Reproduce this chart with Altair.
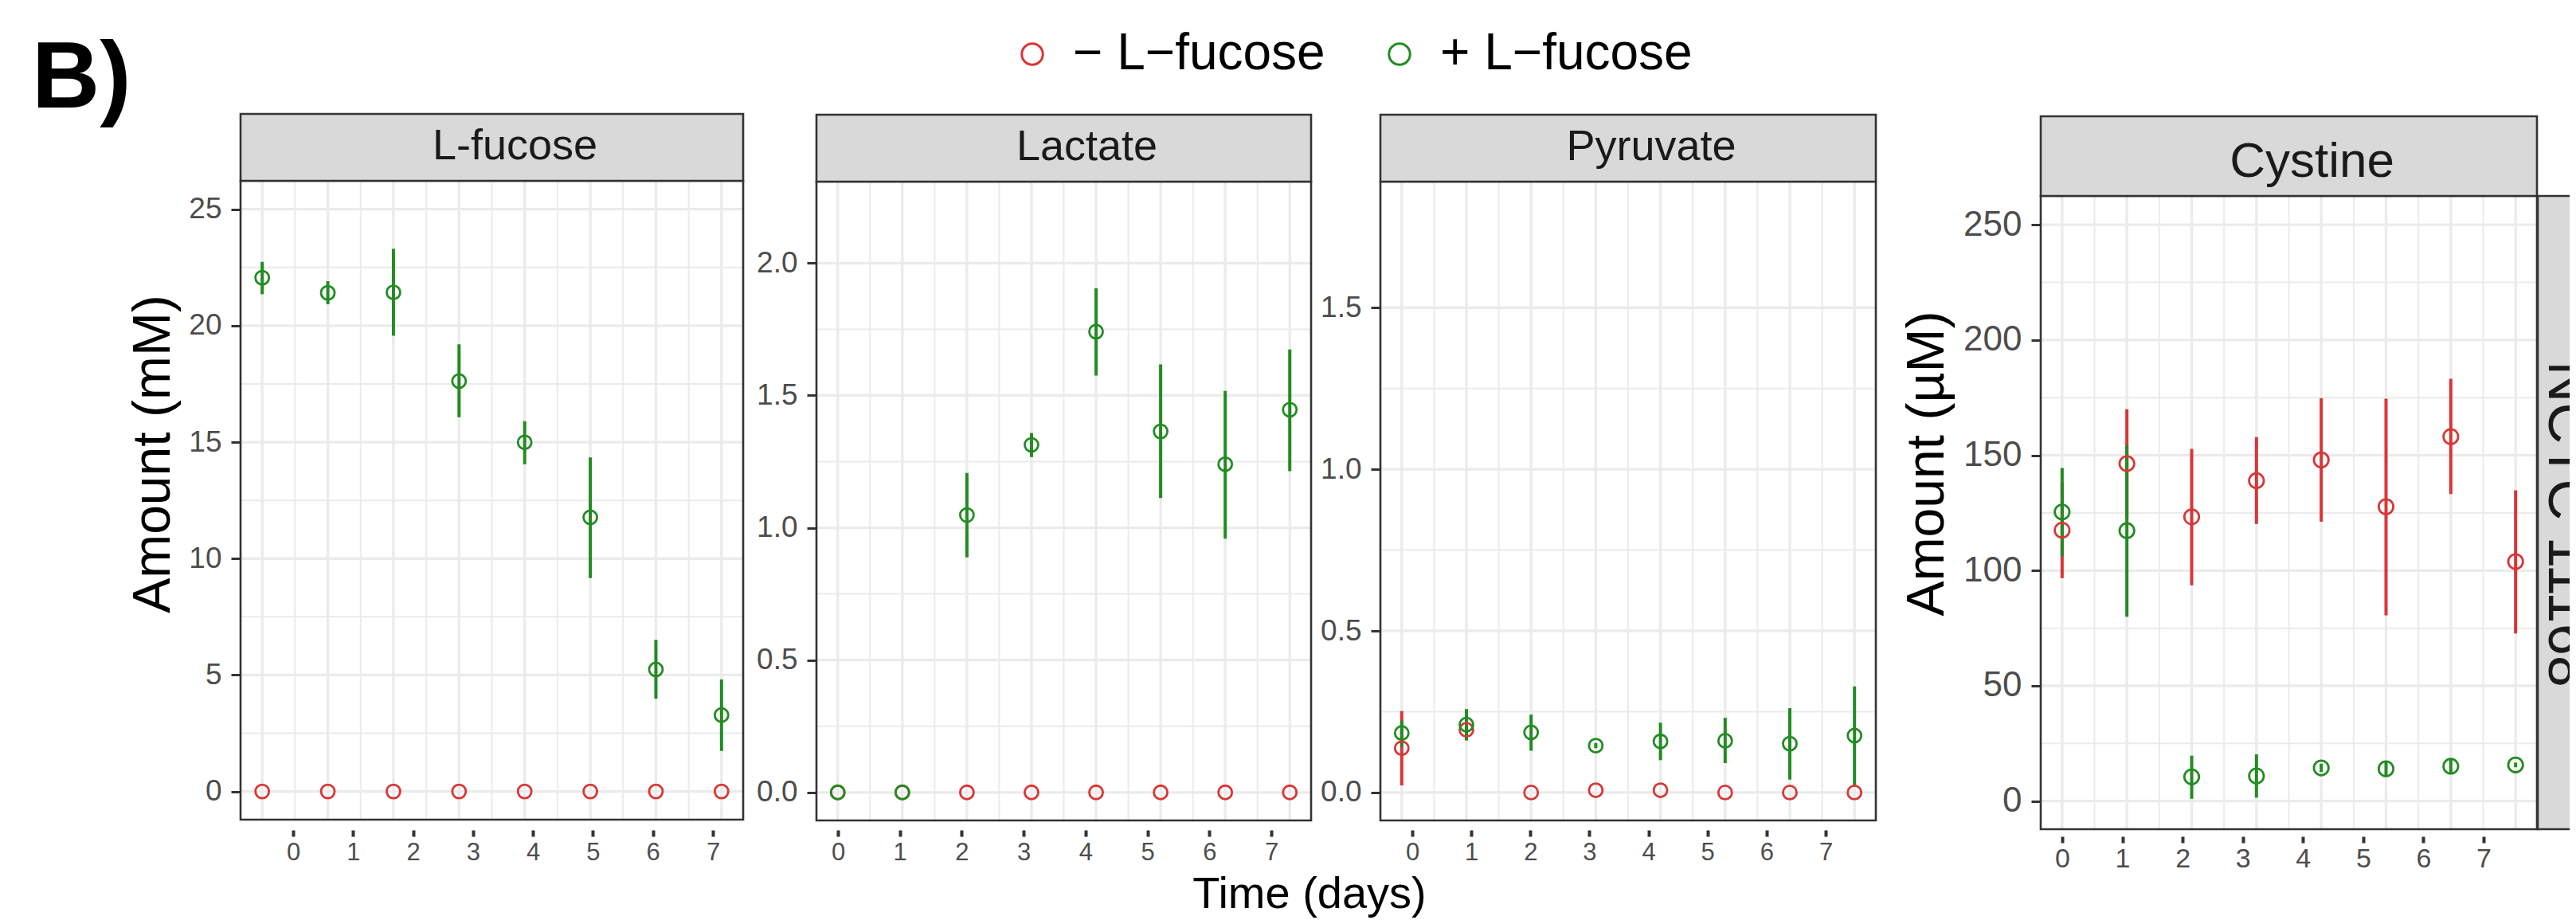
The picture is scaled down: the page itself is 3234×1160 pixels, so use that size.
import altair as alt
import pandas as pd

# ---------------- data ----------------
days = [0, 1, 2, 3, 4, 5, 6, 7]
tick_labels = [0, 1, 2, 3, 4, 5, 6, 7]
conditions = ["− L−fucose", "+ L−fucose"]
condition_colors = ["#d93636", "#238b23"]

# L-fucose (mM)
lfucose_minus_mean = [0, 0, 0, 0, 0, 0, 0, 0]
lfucose_minus_low = [0, 0, 0, 0, 0, 0, 0, 0]
lfucose_minus_high = [0, 0, 0, 0, 0, 0, 0, 0]
lfucose_plus_mean = [22.06, 21.41, 21.43, 17.62, 14.99, 11.77, 5.24, 3.28]
lfucose_plus_low = [21.35, 20.92, 19.57, 16.07, 14.05, 9.16, 3.98, 1.74]
lfucose_plus_high = [22.74, 21.91, 23.30, 19.20, 15.90, 14.34, 6.51, 4.81]

# Lactate (mM)
lactate_minus_mean = [0, 0, 0, 0, 0, 0, 0, 0]
lactate_minus_low = [0, 0, 0, 0, 0, 0, 0, 0]
lactate_minus_high = [0, 0, 0, 0, 0, 0, 0, 0]
lactate_plus_mean = [0.0, 0.0, 1.048, 1.313, 1.741, 1.364, 1.240, 1.446]
lactate_plus_low = [0.0, 0.0, 0.888, 1.267, 1.575, 1.112, 0.959, 1.214]
lactate_plus_high = [0.0, 0.0, 1.207, 1.358, 1.905, 1.617, 1.517, 1.674]

# Pyruvate (mM)
pyruvate_minus_mean = [0.137, 0.194, 0.0, 0.007, 0.007, 0.0, 0.0, 0.0]
pyruvate_minus_low = [0.022, 0.180, 0.0, 0.007, 0.007, 0.0, 0.0, 0.0]
pyruvate_minus_high = [0.252, 0.208, 0.0, 0.007, 0.007, 0.0, 0.0, 0.0]
pyruvate_plus_mean = [0.184, 0.210, 0.186, 0.145, 0.158, 0.160, 0.151, 0.176]
pyruvate_plus_low = [0.141, 0.161, 0.129, 0.137, 0.100, 0.091, 0.040, 0.022]
pyruvate_plus_high = [0.223, 0.258, 0.241, 0.153, 0.216, 0.231, 0.261, 0.328]

# Cystine (µM)
cystine_minus_mean = [117.5, 146.4, 123.3, 139.0, 148.0, 127.7, 158.1, 103.9]
cystine_minus_low = [96.7, 122.8, 93.6, 120.2, 121.2, 80.6, 133.2, 72.7]
cystine_minus_high = [138.0, 170.0, 152.8, 157.9, 174.8, 174.6, 183.2, 134.8]
cystine_plus_mean = [125.4, 117.3, 10.5, 10.9, 14.4, 14.0, 15.1, 15.7]
cystine_plus_low = [106.2, 80.0, 1.0, 1.5, 12.6, 11.0, 11.8, 14.7]
cystine_plus_high = [144.5, 154.3, 19.7, 20.3, 16.2, 17.0, 18.4, 16.7]


def make_table(mm, ml, mh, pm, pl, ph):
    rows = []
    for cond, mean, low, high in [(conditions[0], mm, ml, mh), (conditions[1], pm, pl, ph)]:
        for d, m, lo, hi in zip(days, mean, low, high):
            rows.append({"day": d, "condition": cond, "mean": m, "low": lo, "high": hi})
    return pd.DataFrame(rows)


tables = {
    "lfuc": make_table(lfucose_minus_mean, lfucose_minus_low, lfucose_minus_high,
                       lfucose_plus_mean, lfucose_plus_low, lfucose_plus_high),
    "lact": make_table(lactate_minus_mean, lactate_minus_low, lactate_minus_high,
                       lactate_plus_mean, lactate_plus_low, lactate_plus_high),
    "pyr": make_table(pyruvate_minus_mean, pyruvate_minus_low, pyruvate_minus_high,
                      pyruvate_plus_mean, pyruvate_plus_low, pyruvate_plus_high),
    "cys": make_table(cystine_minus_mean, cystine_minus_low, cystine_minus_high,
                      cystine_plus_mean, cystine_plus_low, cystine_plus_high),
}

# ---------------- layout (reference pixel coordinates) ----------------
M = 8               # page margin
W, H = 3218, 1144   # chart canvas
FONT = "Liberation Sans"
GRID = "#ebebeb"
DARK = "#333333"

panels = [
    dict(key="lfuc", title="L-fucose", left=302, right=933, strip_top=143, top=227, bottom=1029,
         ydom=[-1.21, 26.22], yticks=[0, 5, 10, 15, 20, 25], yfmt="d", ylab=37,
         xt0=368, xt7=895, xtick_top=1042, xlab=31, xpad=5, strip_font=54, strip_base=200,
         pt_size=290, legend=True),
    dict(key="lact", title="Lactate", left=1025, right=1646, strip_top=144, top=228, bottom=1030,
         ydom=[-0.106, 2.308], yticks=[0, 0.5, 1.0, 1.5, 2.0], yfmt=".1f", ylab=37,
         xt0=1052, xt7=1596, xtick_top=1042, xlab=31, xpad=5, strip_font=54, strip_base=201,
         pt_size=290, legend=False),
    dict(key="pyr", title="Pyruvate", left=1733, right=2355, strip_top=144, top=228, bottom=1030,
         ydom=[-0.0865, 1.890], yticks=[0, 0.5, 1.0, 1.5], yfmt=".1f", ylab=37,
         xt0=1773, xt7=2292, xtick_top=1042, xlab=31, xpad=5, strip_font=54, strip_base=201,
         pt_size=290, legend=False),
    dict(key="cys", title="Cystine", left=2562, right=3185, strip_top=146, top=246, bottom=1041,
         ydom=[-12.2, 262.5], yticks=[0, 50, 100, 150, 200, 250], yfmt="d", ylab=44,
         xt0=2589, xt7=3118, xtick_top=1050, xlab=34, xpad=3, strip_font=62, strip_base=222,
         pt_size=340, legend=False),
]


def px(v):
    return v - M


one = pd.DataFrame({"k": [0]})
color_scale = alt.Scale(domain=conditions, range=condition_colors)


def text_layer(txt, x, y, size, angle=0, weight="normal", align="center", baseline="alphabetic",
               color="black", font=FONT):
    return alt.Chart(pd.DataFrame({"t": [txt]})).mark_text(
        font=font, fontSize=size, fontWeight=weight, angle=angle, align=align,
        baseline=baseline, color=color
    ).encode(text="t:N", x=alt.value(px(x)), y=alt.value(px(y)))


def panel_layers(p):
    df = tables[p["key"]]
    xs = alt.Scale(domain=[-0.33, 7.33], range=[px(p["left"]), px(p["right"])], nice=False, zero=False)
    ys = alt.Scale(domain=p["ydom"], range=[px(p["bottom"]), px(p["top"])], nice=False, zero=False)
    yt = p["yticks"]
    minor_x = [(a + b) / 2 for a, b in zip(days[:-1], days[1:])]
    minor_y = [(a + b) / 2 for a, b in zip(yt[:-1], yt[1:])]
    layers = []
    for vals, w in [(minor_x, 2.0), (days, 3.3)]:
        layers.append(alt.Chart(pd.DataFrame({"v": vals})).mark_rule(color=GRID, strokeWidth=w).encode(
            x=alt.X("v:Q", scale=xs, axis=None),
            y=alt.value(px(p["top"])), y2=alt.value(px(p["bottom"]))))
    for vals, w in [(minor_y, 2.0), (yt, 3.3)]:
        layers.append(alt.Chart(pd.DataFrame({"v": vals})).mark_rule(color=GRID, strokeWidth=w).encode(
            y=alt.Y("v:Q", scale=ys, axis=None),
            x=alt.value(px(p["left"])), x2=alt.value(px(p["right"]))))
    # error bars
    layers.append(alt.Chart(df).mark_rule(strokeWidth=4).encode(
        x=alt.X("day:Q", scale=xs, axis=None),
        y=alt.Y("low:Q", scale=ys, axis=None), y2="high:Q",
        color=alt.Color("condition:N", scale=color_scale, legend=None)))
    # points (carry the y axis)
    if p["legend"]:
        leg = alt.Legend(orient="none", legendX=px(1264), legendY=px(36), direction="horizontal",
                         title=None, labelFont=FONT, labelFontSize=64, labelColor="black",
                         labelLimit=0, symbolType="circle", symbolSize=700, symbolStrokeWidth=3,
                         labelOffset=19, columnPadding=61, padding=0)
    else:
        leg = None
    yaxis = alt.Axis(orient="left", offset=-px(p["left"]), values=yt, format=p["yfmt"], domain=False,
                     grid=False, tickSize=12, tickWidth=3, tickColor=DARK, labelFont=FONT,
                     labelFontSize=p["ylab"], labelColor="#4d4d4d", labelPadding=12, title=None,
                     labelOverlap=False, labelFlush=False)
    layers.append(alt.Chart(df).mark_point(filled=False, size=p["pt_size"], strokeWidth=2.8, opacity=1).encode(
        x=alt.X("day:Q", scale=xs, axis=None),
        y=alt.Y("mean:Q", scale=ys, axis=yaxis),
        color=alt.Color("condition:N", scale=color_scale, legend=leg)))
    # panel border
    layers.append(alt.Chart(one).mark_rect(fillOpacity=0, stroke=DARK, strokeWidth=2.6).encode(
        x=alt.value(px(p["left"])), x2=alt.value(px(p["right"])),
        y=alt.value(px(p["top"])), y2=alt.value(px(p["bottom"]))))
    # strip
    layers.append(alt.Chart(one).mark_rect(fill="#d9d9d9", stroke=DARK, strokeWidth=2.6).encode(
        x=alt.value(px(p["left"])), x2=alt.value(px(p["right"])),
        y=alt.value(px(p["strip_top"])), y2=alt.value(px(p["top"]))))
    layers.append(text_layer(p["title"], (p["left"] + p["right"]) / 2 + 29, p["strip_base"],
                             p["strip_font"], color="#1a1a1a"))
    # x tick axis (its own scale, offset as in the reference)
    xt = alt.Scale(domain=[0, 7], range=[px(p["xt0"]), px(p["xt7"])], nice=False, zero=False)
    xaxis = alt.Axis(orient="bottom", offset=px(p["xtick_top"]) - H, values=tick_labels, format="d",
                     domain=False, grid=False, tickSize=8, tickWidth=4, tickColor=DARK,
                     labelFont=FONT, labelFontSize=p["xlab"], labelColor="#4d4d4d",
                     labelPadding=p["xpad"], title=None, labelOverlap=False, labelFlush=False)
    layers.append(alt.Chart(pd.DataFrame({"day": tick_labels})).mark_point(opacity=0).encode(
        x=alt.X("day:Q", scale=xt, axis=xaxis)))
    return layers


layers = []
for p in panels:
    layers.extend(panel_layers(p))

# right-hand strip of the last panel
layers.append(alt.Chart(one).mark_rect(fill="#d9d9d9", stroke=DARK, strokeWidth=2.6).encode(
    x=alt.value(px(3186)), x2=alt.value(px(3300)),
    y=alt.value(px(246)), y2=alt.value(px(1041))))
layers.append(text_layer("NCTC 11168", 3200, 658, 72, angle=90, color="#1a1a1a"))

# titles
layers.append(text_layer("B)", 40, 135, 118, weight="bold", align="left"))
layers.append(text_layer("Amount (mM)", 193, 570, 66, angle=270, baseline="middle"))
layers.append(text_layer("Amount (µM)", 2420, 582, 66, angle=270, baseline="middle"))
layers.append(text_layer("Time (days)", 1644, 1140, 56))

chart = alt.layer(*layers).resolve_scale(
    x="independent", y="independent", color="independent"
).properties(
    width=W, height=H, padding=0, background="white",
    autosize=alt.AutoSizeParams(type="none")
).configure_view(strokeWidth=0)

chart.save("out.html", embed_options={"renderer": "svg", "actions": False})
